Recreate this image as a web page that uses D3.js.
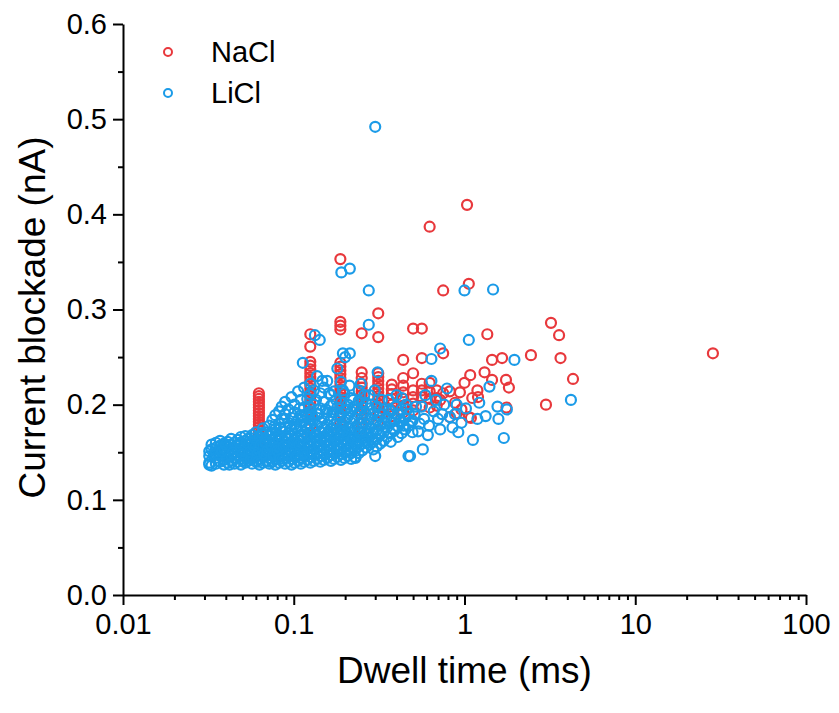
<!DOCTYPE html>
<html>
<head>
<meta charset="utf-8">
<script src="https://cdn.jsdelivr.net/npm/d3@7"></script>
<style>
  body { margin: 0; background: #fff; }
  svg { display: block; font-family: "Liberation Sans", Arial, sans-serif; }
</style>
</head>
<body>
<div id="chart"></div>
<script>
// [dwell time (ms), current blockade (nA)]
const naclPoints = [
  [0.0625, 0.212], [0.0625, 0.209], [0.0625, 0.206], [0.0625, 0.203], [0.0625, 0.200],
  [0.0625, 0.197], [0.0625, 0.194], [0.0625, 0.191], [0.0625, 0.188], [0.0625, 0.185],
  [0.0625, 0.182], [0.0625, 0.179], [0.0625, 0.176], [0.0625, 0.173], [0.0625, 0.168],
  [0.0625, 0.162], [0.0625, 0.156],
  [0.125, 0.274], [0.125, 0.261], [0.125, 0.245], [0.125, 0.241], [0.125, 0.237],
  [0.125, 0.233], [0.125, 0.229], [0.125, 0.225], [0.125, 0.221], [0.125, 0.217],
  [0.125, 0.213], [0.125, 0.209], [0.125, 0.205], [0.125, 0.201], [0.125, 0.197],
  [0.125, 0.193], [0.125, 0.189], [0.125, 0.184], [0.125, 0.178], [0.125, 0.170],
  [0.1875, 0.353], [0.1875, 0.287], [0.1875, 0.283], [0.1875, 0.279], [0.1875, 0.244],
  [0.1875, 0.240], [0.1875, 0.236], [0.1875, 0.232], [0.1875, 0.228], [0.1875, 0.224],
  [0.1875, 0.220], [0.1875, 0.216], [0.1875, 0.212], [0.1875, 0.208], [0.1875, 0.204],
  [0.1875, 0.200], [0.1875, 0.196], [0.1875, 0.192], [0.1875, 0.187], [0.1875, 0.181],
  [0.1875, 0.174],
  [0.25, 0.275], [0.25, 0.234], [0.25, 0.228], [0.25, 0.222], [0.25, 0.218], [0.25, 0.214],
  [0.25, 0.210], [0.25, 0.206], [0.25, 0.202], [0.25, 0.198], [0.25, 0.194], [0.25, 0.190],
  [0.25, 0.186], [0.25, 0.181], [0.25, 0.175],
  [0.3125, 0.296], [0.3125, 0.271], [0.3125, 0.233], [0.3125, 0.229], [0.3125, 0.225],
  [0.3125, 0.221], [0.3125, 0.217], [0.3125, 0.213], [0.3125, 0.209], [0.3125, 0.205],
  [0.3125, 0.201], [0.3125, 0.197], [0.3125, 0.193], [0.3125, 0.188], [0.3125, 0.182],
  [0.375, 0.221], [0.375, 0.216], [0.375, 0.211], [0.375, 0.206], [0.375, 0.200],
  [0.375, 0.194], [0.375, 0.188],
  [0.4375, 0.247], [0.4375, 0.228], [0.4375, 0.220], [0.4375, 0.213], [0.4375, 0.206],
  [0.4375, 0.199], [0.4375, 0.192],
  [0.5, 0.280], [0.5, 0.233], [0.5, 0.215], [0.5, 0.208], [0.5, 0.201], [0.5, 0.194],
  [0.5625, 0.280], [0.5625, 0.249], [0.5625, 0.222], [0.5625, 0.215], [0.5625, 0.208], [0.5625, 0.199],
  [0.625, 0.387], [0.625, 0.223], [0.625, 0.214], [0.625, 0.206], [0.625, 0.197],
  [0.6875, 0.215], [0.6875, 0.207], [0.6875, 0.199],
  [0.75, 0.320], [0.75, 0.254], [0.72, 0.205], [0.75, 0.212],
  [0.82, 0.214], [0.82, 0.187], [0.88, 0.202], [0.9, 0.191], [0.94, 0.213], [0.96, 0.195],
  [1.0, 0.223], [1.035, 0.410], [1.06, 0.327], [1.08, 0.231], [1.06, 0.187], [1.11, 0.207],
  [1.09, 0.186], [1.19, 0.215], [1.2, 0.208], [1.31, 0.234], [1.36, 0.274], [1.45, 0.247],
  [1.45, 0.226], [1.66, 0.249], [1.75, 0.226], [1.76, 0.197], [1.82, 0.218],
  [2.45, 0.252], [3.0, 0.200], [3.21, 0.286], [3.58, 0.273], [3.65, 0.249], [4.32, 0.227],
  [28.5, 0.254]
];

const liclPoints = [
  [0.032, 0.137], [0.032, 0.139], [0.032, 0.146], [0.032, 0.151],
  [0.033, 0.136], [0.033, 0.153], [0.033, 0.158],
  [0.035, 0.138], [0.035, 0.144], [0.035, 0.149], [0.035, 0.155], [0.035, 0.160],
  [0.037, 0.140], [0.037, 0.146], [0.037, 0.152], [0.037, 0.157], [0.037, 0.162],
  [0.039, 0.137], [0.039, 0.142], [0.039, 0.149], [0.039, 0.154], [0.039, 0.159],
  [0.041, 0.139], [0.041, 0.145], [0.041, 0.151], [0.041, 0.156], [0.041, 0.161],
  [0.043, 0.141], [0.043, 0.147], [0.043, 0.153], [0.043, 0.158], [0.043, 0.164],
  [0.045, 0.138], [0.045, 0.144], [0.045, 0.150], [0.045, 0.155], [0.045, 0.160],
  [0.047, 0.140], [0.047, 0.146], [0.047, 0.152], [0.047, 0.157], [0.047, 0.163],
  [0.049, 0.137], [0.049, 0.143], [0.049, 0.149], [0.049, 0.154], [0.049, 0.159], [0.049, 0.166],
  [0.052, 0.139], [0.052, 0.145], [0.052, 0.151], [0.052, 0.156], [0.052, 0.162], [0.052, 0.167],
  [0.054, 0.141], [0.054, 0.147], [0.054, 0.153], [0.054, 0.158], [0.054, 0.164],
  [0.057, 0.138], [0.057, 0.144], [0.057, 0.150], [0.057, 0.155], [0.057, 0.161], [0.057, 0.168],
  [0.060, 0.140], [0.060, 0.146], [0.060, 0.152], [0.060, 0.157], [0.060, 0.163], [0.060, 0.171],
  [0.063, 0.137], [0.063, 0.143], [0.063, 0.149], [0.063, 0.154], [0.063, 0.160], [0.063, 0.166],
  [0.066, 0.139], [0.066, 0.145], [0.066, 0.151], [0.066, 0.156], [0.066, 0.162], [0.066, 0.168], [0.066, 0.175],
  [0.069, 0.141], [0.069, 0.147], [0.069, 0.153], [0.069, 0.158], [0.069, 0.164], [0.069, 0.171],
  [0.072, 0.138], [0.072, 0.144], [0.072, 0.150], [0.072, 0.155], [0.072, 0.161], [0.072, 0.167], [0.072, 0.178],
  [0.075, 0.140], [0.075, 0.146], [0.075, 0.152], [0.075, 0.158], [0.075, 0.163], [0.075, 0.170], [0.075, 0.184],
  [0.078, 0.137], [0.078, 0.143], [0.078, 0.149], [0.078, 0.155], [0.078, 0.160], [0.078, 0.166], [0.078, 0.174], [0.078, 0.189],
  [0.082, 0.139], [0.082, 0.145], [0.082, 0.151], [0.082, 0.157], [0.082, 0.162], [0.082, 0.168], [0.082, 0.180], [0.082, 0.193],
  [0.085, 0.141], [0.085, 0.147], [0.085, 0.153], [0.085, 0.159], [0.085, 0.165], [0.085, 0.172], [0.085, 0.185], [0.085, 0.198],
  [0.089, 0.138], [0.089, 0.144], [0.089, 0.150], [0.089, 0.156], [0.089, 0.161], [0.089, 0.167], [0.089, 0.176], [0.089, 0.190], [0.089, 0.203],
  [0.093, 0.140], [0.093, 0.146], [0.093, 0.152], [0.093, 0.158], [0.093, 0.164], [0.093, 0.170], [0.093, 0.181], [0.093, 0.195],
  [0.097, 0.137], [0.097, 0.143], [0.097, 0.149], [0.097, 0.155], [0.097, 0.161], [0.097, 0.167], [0.097, 0.174], [0.097, 0.186], [0.097, 0.208],
  [0.101, 0.139], [0.101, 0.145], [0.101, 0.151], [0.101, 0.157], [0.101, 0.163], [0.101, 0.169], [0.101, 0.179], [0.101, 0.192], [0.101, 0.200],
  [0.106, 0.141], [0.106, 0.147], [0.106, 0.153], [0.106, 0.159], [0.106, 0.165], [0.106, 0.172], [0.106, 0.184], [0.106, 0.214],
  [0.110, 0.138], [0.110, 0.144], [0.110, 0.150], [0.110, 0.156], [0.110, 0.162], [0.110, 0.168], [0.110, 0.177], [0.110, 0.189], [0.110, 0.205],
  [0.115, 0.140], [0.115, 0.146], [0.115, 0.152], [0.115, 0.158], [0.115, 0.164], [0.115, 0.171], [0.115, 0.183], [0.115, 0.197], [0.115, 0.218],
  [0.113, 0.244],
  [0.120, 0.142], [0.120, 0.148], [0.120, 0.154], [0.120, 0.160], [0.120, 0.166], [0.120, 0.175], [0.120, 0.187], [0.120, 0.206],
  [0.125, 0.139], [0.125, 0.145], [0.125, 0.151], [0.125, 0.157], [0.125, 0.163], [0.125, 0.170], [0.125, 0.180], [0.125, 0.193], [0.125, 0.211], [0.125, 0.222],
  [0.131, 0.141], [0.131, 0.147], [0.131, 0.153], [0.131, 0.159], [0.131, 0.165], [0.131, 0.173], [0.131, 0.185], [0.131, 0.200], [0.131, 0.215],
  [0.133, 0.273], [0.142, 0.268],
  [0.137, 0.143], [0.137, 0.149], [0.137, 0.155], [0.137, 0.161], [0.137, 0.168], [0.137, 0.178], [0.137, 0.190], [0.137, 0.230],
  [0.143, 0.140], [0.143, 0.146], [0.143, 0.152], [0.143, 0.158], [0.143, 0.164], [0.143, 0.171], [0.143, 0.182], [0.143, 0.196], [0.143, 0.212],
  [0.150, 0.142], [0.150, 0.148], [0.150, 0.154], [0.150, 0.160], [0.150, 0.166], [0.150, 0.175], [0.150, 0.186], [0.150, 0.203], [0.150, 0.218],
  [0.157, 0.144], [0.157, 0.150], [0.157, 0.156], [0.157, 0.162], [0.157, 0.169], [0.157, 0.179], [0.157, 0.192], [0.157, 0.225],
  [0.165, 0.141], [0.165, 0.147], [0.165, 0.153], [0.165, 0.159], [0.165, 0.166], [0.165, 0.174], [0.165, 0.185], [0.165, 0.199], [0.165, 0.210],
  [0.172, 0.143], [0.172, 0.149], [0.172, 0.155], [0.172, 0.161], [0.172, 0.169], [0.172, 0.179], [0.172, 0.192], [0.172, 0.214],
  [0.180, 0.145], [0.180, 0.151], [0.180, 0.157], [0.180, 0.164], [0.180, 0.172], [0.180, 0.183], [0.180, 0.197], [0.180, 0.238],
  [0.189, 0.142], [0.189, 0.148], [0.189, 0.154], [0.189, 0.161], [0.189, 0.168], [0.189, 0.177], [0.189, 0.188], [0.189, 0.202], [0.189, 0.224],
  [0.190, 0.339], [0.194, 0.254], [0.213, 0.343], [0.213, 0.254], [0.200, 0.250],
  [0.198, 0.144], [0.198, 0.150], [0.198, 0.157], [0.198, 0.164], [0.198, 0.172], [0.198, 0.182], [0.198, 0.194], [0.198, 0.212],
  [0.207, 0.146], [0.207, 0.152], [0.207, 0.159], [0.207, 0.167], [0.207, 0.176], [0.207, 0.187], [0.207, 0.200],
  [0.217, 0.143], [0.217, 0.149], [0.217, 0.156], [0.217, 0.163], [0.217, 0.171], [0.217, 0.181], [0.217, 0.193], [0.217, 0.207],
  [0.228, 0.145], [0.228, 0.151], [0.228, 0.158], [0.228, 0.166], [0.228, 0.175], [0.228, 0.186], [0.228, 0.198],
  [0.240, 0.149], [0.240, 0.156], [0.240, 0.163], [0.240, 0.171], [0.240, 0.180], [0.240, 0.191], [0.240, 0.204], [0.240, 0.215],
  [0.252, 0.152], [0.252, 0.159], [0.252, 0.167], [0.252, 0.176], [0.252, 0.186], [0.252, 0.197],
  [0.265, 0.155], [0.265, 0.162], [0.265, 0.170], [0.265, 0.179], [0.265, 0.190], [0.265, 0.202],
  [0.275, 0.320], [0.275, 0.284], [0.300, 0.492], [0.310, 0.234],
  [0.278, 0.158], [0.278, 0.166], [0.278, 0.175], [0.278, 0.185], [0.278, 0.196], [0.278, 0.210],
  [0.292, 0.153], [0.292, 0.161], [0.292, 0.170], [0.292, 0.180], [0.292, 0.191],
  [0.306, 0.156], [0.306, 0.164], [0.306, 0.173], [0.306, 0.184], [0.306, 0.198],
  [0.320, 0.159], [0.320, 0.168], [0.320, 0.178], [0.320, 0.190],
  [0.336, 0.162], [0.336, 0.171], [0.336, 0.182], [0.336, 0.195],
  [0.352, 0.166], [0.352, 0.176], [0.352, 0.187], [0.360, 0.205],
  [0.370, 0.161], [0.370, 0.170], [0.370, 0.181], [0.370, 0.193],
  [0.388, 0.173], [0.388, 0.185], [0.400, 0.210],
  [0.407, 0.166], [0.407, 0.177], [0.407, 0.190], [0.430, 0.207],
  [0.428, 0.170], [0.428, 0.182], [0.428, 0.195],
  [0.450, 0.174], [0.450, 0.186], [0.455, 0.200],
  [0.472, 0.178], [0.472, 0.190], [0.520, 0.198],
  [0.496, 0.171], [0.496, 0.183], [0.547, 0.180],
  [0.230, 0.144], [0.300, 0.146], [0.470, 0.146], [0.480, 0.146], [0.270, 0.160],
  [0.570, 0.153], [0.610, 0.168], [0.590, 0.210], [0.640, 0.248], [0.640, 0.225],
  [0.720, 0.259], [0.720, 0.174], [0.790, 0.217], [0.820, 0.187], [0.920, 0.171],
  [0.960, 0.181], [1.000, 0.320], [1.060, 0.268], [1.120, 0.163], [1.190, 0.185],
  [1.220, 0.202], [1.330, 0.188], [1.400, 0.219], [1.470, 0.321], [1.560, 0.198],
  [1.580, 0.185], [1.700, 0.165], [1.770, 0.195], [1.960, 0.247], [4.200, 0.205],
  [0.660, 0.193], [0.700, 0.185], [0.760, 0.200], [0.880, 0.190], [1.020, 0.196],
  // off-column events filling the dense cloud
  [0.034, 0.147], [0.036, 0.141], [0.038, 0.151], [0.040, 0.158], [0.042, 0.137],
  [0.044, 0.150], [0.046, 0.143], [0.048, 0.160], [0.050, 0.148], [0.051, 0.141],
  [0.053, 0.160], [0.055, 0.150], [0.056, 0.143], [0.058, 0.157], [0.059, 0.165],
  [0.061, 0.148], [0.062, 0.140], [0.064, 0.158], [0.065, 0.170], [0.067, 0.148],
  [0.068, 0.160], [0.070, 0.152], [0.071, 0.140], [0.073, 0.170], [0.074, 0.157],
  [0.076, 0.147], [0.077, 0.177], [0.080, 0.152], [0.081, 0.165], [0.083, 0.143],
  [0.084, 0.176], [0.087, 0.156], [0.088, 0.185], [0.091, 0.148], [0.092, 0.166],
  [0.095, 0.178], [0.096, 0.152], [0.099, 0.186], [0.100, 0.160], [0.103, 0.145],
  [0.104, 0.176], [0.108, 0.196], [0.108, 0.158], [0.112, 0.168], [0.113, 0.148],
  [0.117, 0.178], [0.118, 0.190], [0.122, 0.158], [0.123, 0.198], [0.128, 0.150],
  [0.128, 0.188], [0.134, 0.168], [0.135, 0.205], [0.140, 0.158], [0.140, 0.190],
  [0.146, 0.176], [0.147, 0.225], [0.153, 0.162], [0.154, 0.195], [0.160, 0.172],
  [0.161, 0.212], [0.168, 0.150], [0.168, 0.192], [0.176, 0.165], [0.177, 0.205],
  [0.184, 0.155], [0.185, 0.190], [0.193, 0.172], [0.194, 0.215], [0.202, 0.160],
  [0.203, 0.195], [0.212, 0.175], [0.212, 0.220], [0.222, 0.165], [0.223, 0.205],
  [0.234, 0.158], [0.235, 0.195], [0.246, 0.170], [0.247, 0.222], [0.258, 0.162],
  [0.259, 0.210], [0.272, 0.172], [0.285, 0.200], [0.298, 0.215], [0.313, 0.170],
  [0.328, 0.205], [0.344, 0.180], [0.362, 0.195], [0.380, 0.175], [0.395, 0.198],
  [0.415, 0.183], [0.440, 0.178], [0.462, 0.195], [0.485, 0.182], [0.510, 0.190],
  [0.535, 0.172], [0.560, 0.198], [0.580, 0.185], [0.620, 0.178], [0.680, 0.205],
  [0.740, 0.190], [0.850, 0.176], [0.900, 0.200]
];

const seriesNames = ["NaCl", "LiCl"];
const seriesColors = ["#e8383c", "#1b9be8"];
const xMajorTicks = [0.01, 0.1, 1, 10, 100];
const yMajorTicks = [0, 0.1, 0.2, 0.3, 0.4, 0.5, 0.6];
const yMinorTicks = [0.05, 0.15, 0.25, 0.35, 0.45, 0.55];

const width = 839;
const height = 713;
const margin = { top: 24, right: 33, bottom: 118, left: 123 };

const svg = d3
  .select("#chart")
  .append("svg")
  .attr("width", width)
  .attr("height", height);

const x = d3
  .scaleLog()
  .domain([0.01, 100])
  .range([margin.left, width - margin.right]);

const y = d3
  .scaleLinear()
  .domain([0, 0.6])
  .range([height - margin.bottom, margin.top]);

// minor x ticks: every 2..9 inside each decade
const xMinorTicks = x.ticks().filter((d) => !xMajorTicks.some((m) => Math.abs(m - d) < 1e-9));

// scatter, NaCl first so LiCl sits on top
const series = [naclPoints, liclPoints];
series.forEach((pts, i) => {
  svg
    .append("g")
    .selectAll("circle")
    .data(pts)
    .join("circle")
    .attr("cx", (d) => x(d[0]))
    .attr("cy", (d) => y(d[1]))
    .attr("r", 5)
    .attr("fill", "none")
    .attr("stroke", seriesColors[i])
    .attr("stroke-width", 2.2);
});

// axes
svg
  .append("g")
  .attr("transform", `translate(0,${y(0)})`)
  .call(
    d3.axisBottom(x).tickValues(xMajorTicks).tickSize(10).tickSizeOuter(0).tickPadding(8)
      .tickFormat((d) => String(d))
  );
svg
  .append("g")
  .attr("transform", `translate(0,${y(0)})`)
  .call(d3.axisBottom(x).tickValues(xMinorTicks).tickSize(5).tickSizeOuter(0).tickFormat(""))
  .call((g) => g.select(".domain").remove());

svg
  .append("g")
  .attr("transform", `translate(${x(0.01)},0)`)
  .call(
    d3.axisLeft(y).tickValues(yMajorTicks).tickSize(10).tickSizeOuter(0).tickPadding(6)
      .tickFormat(d3.format(".1f"))
  );
svg
  .append("g")
  .attr("transform", `translate(${x(0.01)},0)`)
  .call(d3.axisLeft(y).tickValues(yMinorTicks).tickSize(5).tickSizeOuter(0).tickFormat(""))
  .call((g) => g.select(".domain").remove());

svg.selectAll(".domain").attr("stroke", "#000").attr("stroke-width", 2);
svg.selectAll(".tick line").attr("stroke", "#000").attr("stroke-width", 2);
svg
  .selectAll(".tick text")
  .attr("fill", "#000")
  .style("font-size", "29px")
  .style("font-family", '"Liberation Sans", Arial, sans-serif');

// axis titles
svg
  .append("text")
  .attr("x", (x(0.01) + x(100)) / 2)
  .attr("y", 683)
  .attr("text-anchor", "middle")
  .style("font-size", "37px")
  .text("Dwell time (ms)");

svg
  .append("text")
  .attr("transform", `translate(45,${(y(0) + y(0.6)) / 2 + 8}) rotate(-90)`)
  .attr("text-anchor", "middle")
  .style("font-size", "37px")
  .text("Current blockade (nA)");

// legend
const legend = svg
  .append("g")
  .selectAll("g")
  .data(seriesNames)
  .join("g")
  .attr("transform", (d, i) => `translate(168,${52 + i * 41})`);

legend
  .append("circle")
  .attr("r", 4)
  .attr("fill", "none")
  .attr("stroke", (d, i) => seriesColors[i])
  .attr("stroke-width", 2);

legend
  .append("text")
  .attr("x", 43)
  .attr("y", 10)
  .style("font-size", "29px")
  .text((d) => d);
</script>
</body>
</html>
